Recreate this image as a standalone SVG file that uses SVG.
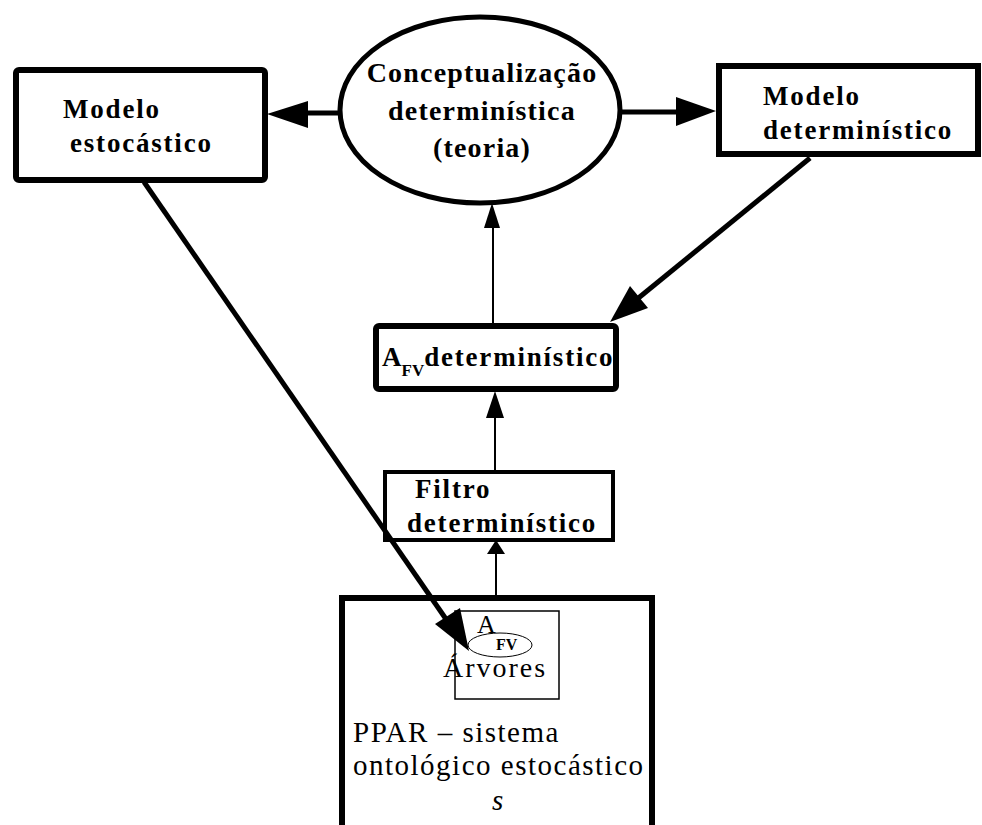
<svg xmlns="http://www.w3.org/2000/svg" width="982" height="825" viewBox="0 0 982 825">
<style>
.box{fill:#fff;stroke:#000;stroke-width:6}
.t{font-family:"Liberation Serif","Times New Roman",serif;font-size:27px;font-weight:bold;letter-spacing:1.8px;fill:#000}
.c{font-family:"Liberation Serif","Times New Roman",serif;font-size:28px;font-weight:bold;letter-spacing:1.2px;fill:#000;text-anchor:middle}
.r{font-family:"Liberation Serif","Times New Roman",serif;font-size:29px;letter-spacing:1.5px;fill:#000}
.thick{stroke:#000;stroke-width:5;fill:none}
.thin{stroke:#000;stroke-width:2;fill:none}
.head{fill:#000}
</style>
<rect width="982" height="825" fill="#fff"/>
<g id="modelo-estocastico">
<rect class="box" x="16" y="70" width="249" height="110" rx="3"/>
<text class="t" x="63" y="118">Modelo</text>
<text class="t" x="70" y="152">estocástico</text>
</g>
<g id="conceptualizacao">
<ellipse cx="480" cy="110" rx="140" ry="93" fill="#fff" stroke="#000" stroke-width="5"/>
<text class="c" x="482" y="82">Conceptualização</text>
<text class="c" x="482" y="120">determinística</text>
<text class="c" x="482" y="157">(teoria)</text>
</g>
<g id="modelo-deterministico">
<rect class="box" x="719" y="66" width="259" height="88"/>
<text class="t" x="763" y="105">Modelo</text>
<text class="t" x="763" y="139">determinístico</text>
</g>
<g id="afv-deterministico">
<rect class="box" x="376" y="326" width="240" height="63" rx="3"/>
<text class="t" x="382" y="366" style="letter-spacing:0">A<tspan dy="10" style="font-size:17px">FV</tspan><tspan dy="-10" style="letter-spacing:1.8px">determinístico</tspan></text>
</g>
<g id="filtro-deterministico">
<rect class="box" x="385" y="472" width="228" height="68" style="stroke-width:4"/>
<text class="t" x="415" y="498">Filtro</text>
<text class="t" x="407" y="532">determinístico</text>
</g>
<g id="ppar">
<rect class="box" x="342" y="598" width="310" height="232"/>
<rect x="455" y="611" width="104" height="88" fill="none" stroke="#000" stroke-width="1.5"/>
<ellipse cx="500" cy="645" rx="32" ry="12" fill="none" stroke="#000" stroke-width="1"/>
<text class="r" x="477" y="633" style="font-size:26px;letter-spacing:0">A</text>
<text class="r" x="496" y="650" style="font-size:16px;font-weight:bold;letter-spacing:0">FV</text>
<text class="r" x="443" y="677" style="font-size:28px;letter-spacing:2px">Árvores</text>
<text class="r" x="353" y="742">PPAR – sistema</text>
<text class="r" x="353" y="775">ontológico estocástico</text>
<text class="r" x="492" y="810" style="font-style:italic">s</text>
</g>
<g id="connectors">
<line class="thick" x1="340" y1="113" x2="300" y2="113"/>
<polygon class="head" points="267,114 308,101 308,128"/>
<line class="thick" x1="620" y1="112" x2="683" y2="112"/>
<polygon class="head" points="716,111 676,97 676,126"/>
<line class="thin" x1="493" y1="326" x2="493" y2="222"/>
<polygon class="head" points="492,203 484,228 500,228"/>
<line class="thin" x1="495" y1="470" x2="495" y2="412"/>
<polygon class="head" points="495,391 486,418 504,418"/>
<line class="thin" x1="496" y1="596" x2="496" y2="550"/>
<polygon class="head" points="496,540 487,554 505,554"/>
<line class="thick" x1="810" y1="158" x2="636" y2="300"/>
<polygon class="head" points="610,322 630,286 648,308"/>
<line class="thick" x1="144" y1="182" x2="448" y2="622"/>
<polygon class="head" points="469,651 435,624 460,608"/>
</g>
</svg>
